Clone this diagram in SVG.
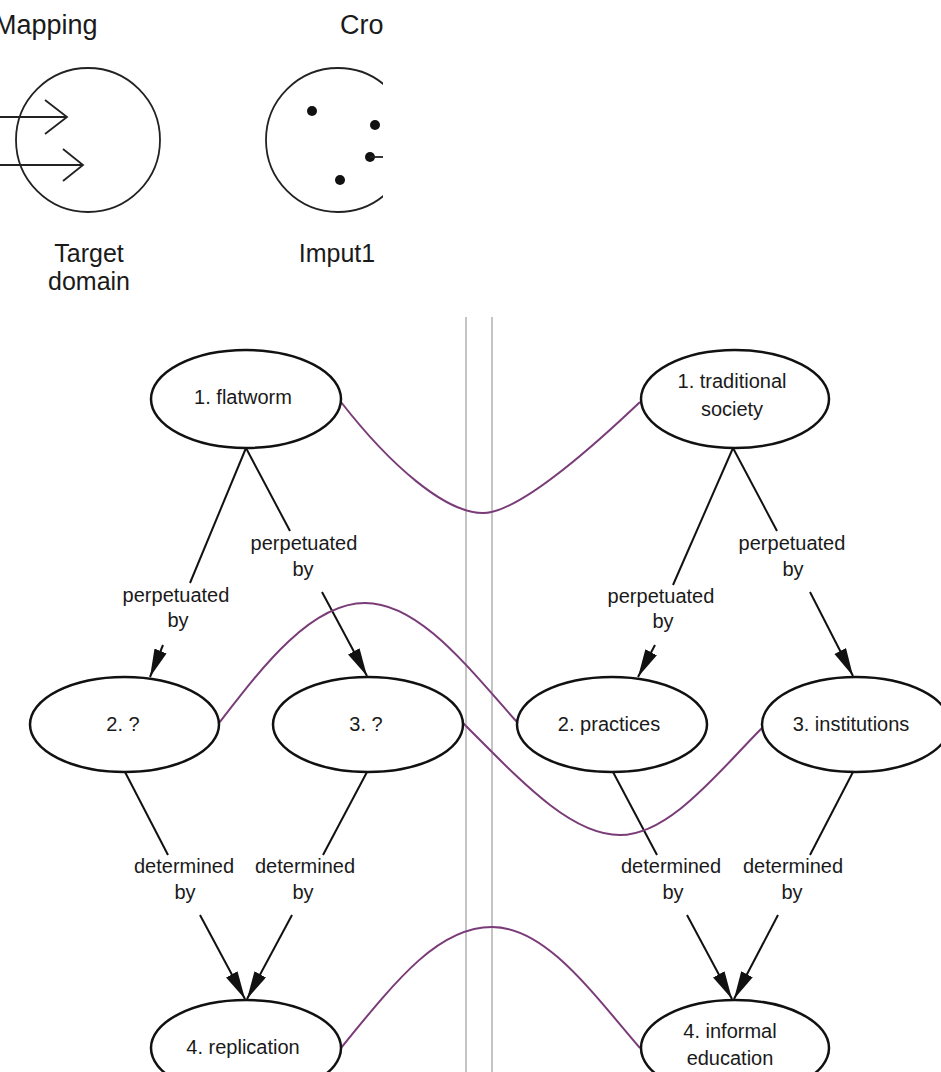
<svg xmlns="http://www.w3.org/2000/svg" width="941" height="1072" viewBox="0 0 941 1072">
<style>
text{font-family:"Liberation Sans",Arial,sans-serif;fill:#1a1a1a;text-anchor:middle}
.big{font-size:25px}
.lbl{font-size:20px}
.node ellipse{fill:#fff;stroke:#111;stroke-width:2.5}
.edge{stroke:#111;stroke-width:2;fill:none}
.arr{stroke:#111;stroke-width:2;fill:none;marker-end:url(#ah)}
.map{stroke:#7a3c78;stroke-width:2;fill:none}
.sep{stroke:#c4c4c4;stroke-width:2}
.frag{fill:none;stroke:#222;stroke-width:1.8}
</style>
<defs>
<marker id="ah" markerUnits="userSpaceOnUse" markerWidth="30" markerHeight="14" refX="28" refY="6.5" orient="auto">
<path d="M0,0 L28,6.5 L0,13 z" fill="#111"/>
</marker>
<clipPath id="fragclip"><rect x="0" y="0" width="383" height="310"/></clipPath>
</defs>
<rect width="941" height="1072" fill="#fff"/>

<g id="fragment" clip-path="url(#fragclip)">
<text x="-6" y="34" style="text-anchor:start;font-size:27px">Mapping</text>
<text x="340" y="34" style="text-anchor:start;font-size:27px">Cro</text>
<circle class="frag" cx="88" cy="140" r="72"/>
<path class="frag" d="M0,117 H67 M45,100 L67,117 L45,134 M0,165 H83 M63,149 L83,165 L63,181"/>
<circle class="frag" cx="338" cy="140" r="72"/>
<g fill="#111">
<circle cx="312" cy="111" r="5"/>
<circle cx="375" cy="125" r="5"/>
<circle cx="370" cy="157" r="5"/>
<circle cx="340" cy="180" r="5"/>
</g>
<path class="frag" d="M370,157 H383"/>
<text class="big" x="89" y="262">Target</text>
<text class="big" x="89" y="290">domain</text>
<text class="big" x="337" y="262">Imput1</text>
</g>

<g id="separator">
<line class="sep" x1="466" y1="317" x2="466" y2="1072"/>
<line class="sep" x1="492" y1="317" x2="492" y2="1072"/>
</g>

<g id="connectors">
<path class="edge" d="M246,448 L190,583"/>
<path class="edge" d="M246,448 L290,531"/>
<path class="arr" d="M163,645 L150,677"/>
<path class="arr" d="M322,592 L367,676"/>
<path class="edge" d="M733,448 L673,585"/>
<path class="edge" d="M733,448 L777,531"/>
<path class="arr" d="M655,645 L638,677"/>
<path class="arr" d="M810,592 L853,676"/>
<path class="edge" d="M125,772 L168,855"/>
<path class="edge" d="M367,772 L323,855"/>
<path class="arr" d="M200,915 L245,999"/>
<path class="arr" d="M292,915 L247,999"/>
<path class="edge" d="M613,772 L657,855"/>
<path class="edge" d="M853,772 L810,855"/>
<path class="arr" d="M687,915 L732,999"/>
<path class="arr" d="M778,915 L734,999"/>
<text class="lbl" x="304" y="550">perpetuated</text>
<text class="lbl" x="303" y="576">by</text>
<text class="lbl" x="176" y="602">perpetuated</text>
<text class="lbl" x="178" y="627">by</text>
<text class="lbl" x="661" y="603">perpetuated</text>
<text class="lbl" x="663" y="628">by</text>
<text class="lbl" x="792" y="550">perpetuated</text>
<text class="lbl" x="793" y="576">by</text>
<text class="lbl" x="184" y="873">determined</text>
<text class="lbl" x="185" y="899">by</text>
<text class="lbl" x="305" y="873">determined</text>
<text class="lbl" x="303" y="899">by</text>
<text class="lbl" x="671" y="873">determined</text>
<text class="lbl" x="673" y="899">by</text>
<text class="lbl" x="793" y="873">determined</text>
<text class="lbl" x="792" y="899">by</text>
</g>

<g id="mappings">
<path class="map" d="M341,402 C390,465 445,513 483,513 C520,513 600,440 640,402"/>
<path class="map" d="M219,723 C260,670 310,603 365,603 C420,603 470,670 517,722"/>
<path class="map" d="M463,723 C520,780 570,835 620,835 C670,835 720,770 762,728"/>
<path class="map" d="M341,1048 C400,975 440,927 492,927 C545,927 590,990 640,1048"/>
</g>

<g id="n-flatworm" class="node"><ellipse cx="246" cy="399" rx="95" ry="49"/><text class="lbl" x="243" y="404">1. flatworm</text></g>
<g id="n-traditional" class="node"><ellipse cx="735" cy="399" rx="94" ry="49"/><text class="lbl" x="732" y="388">1. traditional</text><text class="lbl" x="732" y="416">society</text></g>
<g id="n-q2" class="node"><ellipse cx="124.5" cy="724.5" rx="94.5" ry="47.5"/><text class="lbl" x="123" y="731">2. ?</text></g>
<g id="n-q3" class="node"><ellipse cx="368" cy="724.5" rx="95" ry="47.5"/><text class="lbl" x="366" y="731">3. ?</text></g>
<g id="n-practices" class="node"><ellipse cx="612" cy="724.5" rx="95" ry="47.5"/><text class="lbl" x="609" y="731">2. practices</text></g>
<g id="n-institutions" class="node"><ellipse cx="856" cy="724.5" rx="94" ry="47.5"/><text class="lbl" x="851" y="731">3. institutions</text></g>
<g id="n-replication" class="node"><ellipse cx="246" cy="1048" rx="95" ry="48"/><text class="lbl" x="243" y="1054">4. replication</text></g>
<g id="n-informal" class="node"><ellipse cx="735" cy="1048" rx="94" ry="48"/><text class="lbl" x="730" y="1038">4. informal</text><text class="lbl" x="730" y="1065">education</text></g>
</svg>
